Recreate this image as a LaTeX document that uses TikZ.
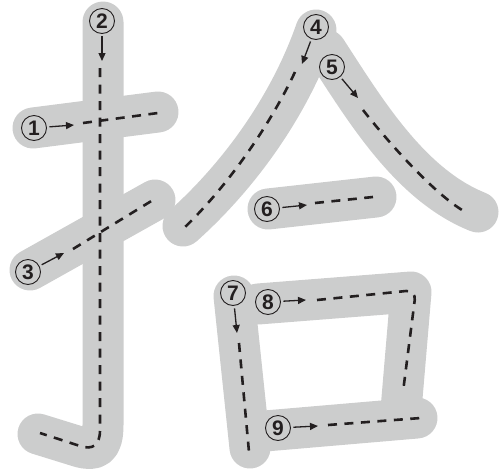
\documentclass[tikz,border=0pt]{standalone}
\usepackage{fontspec}
\setmainfont{Liberation Sans}
\usetikzlibrary{arrows.meta}
\definecolor{strk}{RGB}{204,205,205}
\definecolor{ink}{RGB}{35,31,32}
\begin{document}
\begin{tikzpicture}[x=1pt,y=-1pt,
  stroke/.style={strk, line width=41pt, line cap=round, line join=round},
  guide/.style={ink, line width=2.6pt, dash pattern=on 9pt off 7.5pt},
  lbl/.style={circle, draw=ink, line width=0.9pt, minimum size=25pt, inner sep=0pt,
    font=\bfseries\fontsize{21}{21}\selectfont, text=ink},
  arr/.style={ink, line width=1.3pt, -{Triangle[length=8pt,width=7pt]}, shorten <=2.5pt}
]
\useasboundingbox (0,0) rectangle (499,472);
% gray strokes
\draw[stroke] (33,128) -- (158,112);
\draw[stroke] (103,22) -- (103,425) .. controls (103,448) and (95,451) .. (80,447) -- (38,434);
\draw[stroke] (30,270) -- (155,200);
\draw[stroke] (316,30) .. controls (290,105) and (240,175) .. (183,226);
\draw[stroke] (326,50) .. controls (365,110) and (410,185) .. (478,212);
\draw[stroke] (268,209) -- (376,197);
\draw[stroke] (234,296) -- (250,448);
\draw[stroke] (258,304) -- (411,292) -- (401,410);
\draw[stroke] (265,431) -- (417,418);
% guide lines
\draw[guide] (83,123) -- (158,113);
\draw[guide] (100,68) -- (100,430) .. controls (100,446) and (92,450) .. (80,446) -- (40,433);
\draw[guide] (73,249) -- (153,200);
\draw[guide] (295,72) .. controls (270,125) and (228,186) .. (183,229);
\draw[guide] (363,110) .. controls (385,138) and (430,190) .. (462,210);
\draw[guide] (315,203) -- (373,197);
\draw[guide] (239,343) -- (249,452);
\draw[guide, rounded corners=10pt] (317,300) -- (416,290) -- (403,392);
\draw[guide] (328,425) -- (421,418);
% labels
\node[lbl] (n1) at (34,128) {1};
\node[lbl] (n2) at (102,21) {2};
\node[lbl] (n3) at (28,272) {3};
\node[lbl] (n4) at (316,27) {4};
\node[lbl] (n5) at (332,67) {5};
\node[lbl] (n6) at (267,209) {6};
\node[lbl] (n7) at (233,293) {7};
\node[lbl] (n8) at (268,302) {8};
\node[lbl] (n9) at (278,428) {9};
% arrow end points
\coordinate (a1) at (74,125);
\coordinate (a2) at (102,61);
\coordinate (a3) at (64,253);
\coordinate (a4) at (302,64);
\coordinate (a5) at (358,98);
\coordinate (a6) at (307,205);
\coordinate (a7) at (237,333);
\coordinate (a8) at (306,300);
\coordinate (a9) at (318,426);
\foreach \i in {1,...,9} {\draw[arr] (n\i) -- (a\i);}
\end{tikzpicture}
\end{document}
